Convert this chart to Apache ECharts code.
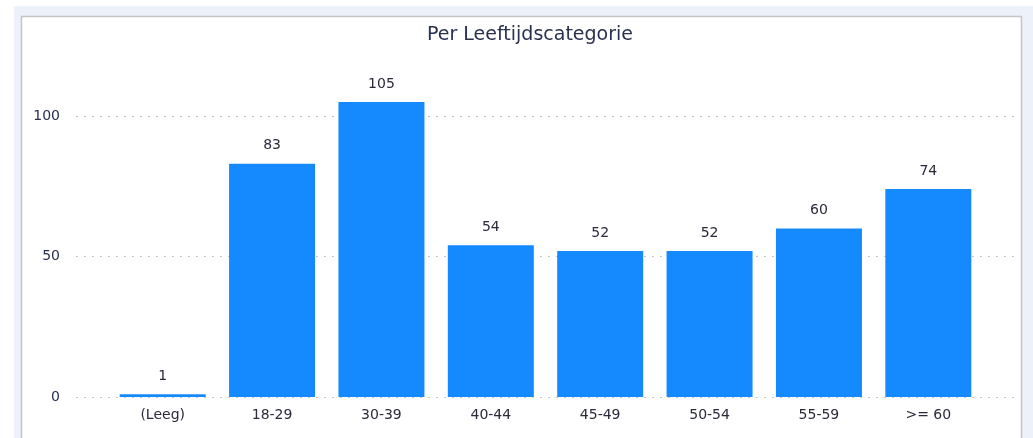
<!DOCTYPE html>
<html>
<head>
<meta charset="utf-8">
<script src="https://cdn.jsdelivr.net/npm/echarts@6/dist/echarts.min.js"></script>
<style>
  html, body { margin: 0; padding: 0; background: #ffffff; }
  #chart { width: 1033px; height: 438px; }
</style>
</head>
<body>
<div id="chart"></div>
<script>
// leeftijdscategorieen en aantallen
const categories = ['(Leeg)', '18-29', '30-39', '40-44', '45-49', '50-54', '55-59', '>= 60']
const counts = [1, 83, 105, 54, 52, 52, 60, 74]
const yTicks = [0, 50, 100]

const chart = echarts.init(document.getElementById('chart'))
const font = 'Tahoma, "DejaVu Sans", "Noto Sans", sans-serif'

const option = {
  animation: false,
  textStyle: { fontFamily: font },
  title: {
    text: 'Per Leeftijdscategorie',
    left: 525,
    textAlign: 'center',
    top: 21,
    textStyle: { fontSize: 19, fontWeight: 'normal', color: '#2a3050', fontFamily: font }
  },
  graphic: [
    { type: 'rect', z: -10, shape: { x: 14, y: 6, width: 1019, height: 432 }, style: { fill: '#edf1f9' } },
    { type: 'rect', z: -9, shape: { x: 21.5, y: 16.5, width: 1000, height: 425 }, style: { fill: '#ffffff', stroke: '#c4c4c4', lineWidth: 1.5 } }
  ],
  grid: [
    // grid voor de horizontale hulplijnen (breder dan de staven)
    { left: 76, right: 18, top: 116, bottom: 41 },
    // grid voor de staven
    { left: 108, right: 50, top: 116, bottom: 41 }
  ],
  xAxis: [
    { gridIndex: 0, type: 'category', data: categories, show: false },
    {
      gridIndex: 1,
      type: 'category',
      data: categories,
      axisLine: { show: false },
      axisTick: { show: false },
      axisLabel: { color: '#2a2a3a', fontSize: 14, margin: 11, fontFamily: font }
    }
  ],
  yAxis: [
    {
      gridIndex: 0,
      type: 'value',
      min: yTicks[0],
      max: yTicks[yTicks.length - 1],
      interval: 50,
      axisLine: { show: false },
      axisTick: { show: false },
      axisLabel: { color: '#2a3050', fontSize: 14, margin: 16, fontFamily: font },
      splitLine: { show: true, lineStyle: { color: '#c6c6c6', type: [2, 6], width: 1 } }
    },
    {
      gridIndex: 1,
      type: 'value',
      min: yTicks[0],
      max: yTicks[yTicks.length - 1],
      interval: 50,
      show: false,
      splitLine: { show: false }
    }
  ],
  series: [
    {
      type: 'bar',
      xAxisIndex: 1,
      yAxisIndex: 1,
      data: counts,
      barWidth: 86,
      clip: false,
      itemStyle: { color: '#1589fe' },
      label: {
        show: true,
        position: 'top',
        distance: 11,
        color: '#2a2a3a',
        fontSize: 14,
        fontFamily: font
      }
    }
  ]
}
chart.setOption(option)
</script>
</body>
</html>
